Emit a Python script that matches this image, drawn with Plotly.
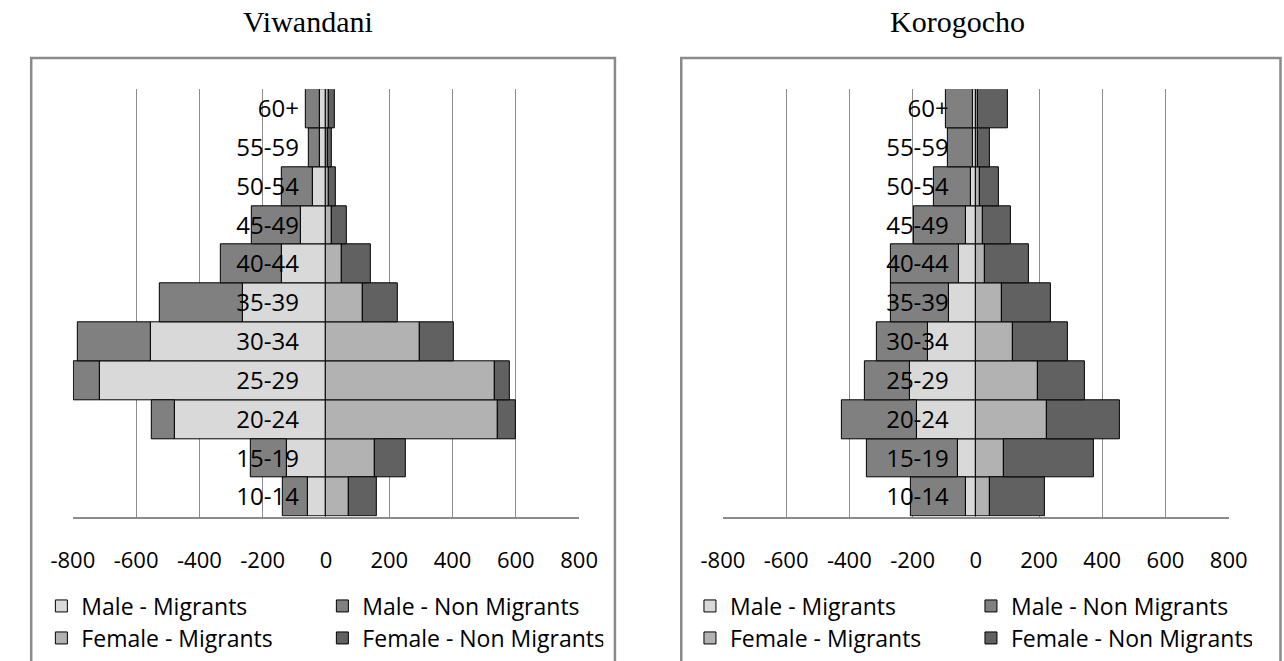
import plotly.graph_objects as go

# ---------------- data ----------------
age_groups = ["10-14", "15-19", "20-24", "25-29", "30-34", "35-39",
              "40-44", "45-49", "50-54", "55-59", "60+"]

series_names = ["Male - Migrants", "Male - Non Migrants",
                "Female - Migrants", "Female - Non Migrants"]

# Viwandani
viw_male_migrants = [57, 125, 477, 714, 554, 262, 139, 79, 40, 20, 20]
viw_male_non_migrants = [80, 114, 73, 82, 229, 264, 194, 154, 100, 35, 45]
viw_female_migrants = [71, 154, 543, 534, 298, 117, 50, 19, 10, 6, 10]
viw_female_non_migrants = [91, 98, 58, 47, 107, 110, 91, 48, 22, 12, 18]

# Korogocho
kor_male_migrants = [30, 58, 187, 210, 152, 84, 54, 30, 14, 10, 10]
kor_male_non_migrants = [175, 288, 238, 142, 162, 186, 216, 166, 119, 79, 85]
kor_female_migrants = [46, 90, 224, 196, 116, 84, 28, 22, 13, 7, 8]
kor_female_non_migrants = [174, 283, 232, 150, 175, 152, 140, 89, 60, 37, 92]

x_tick_values = [-800, -600, -400, -200, 0, 200, 400, 600, 800]
x_tick_labels = ["-800", "-600", "-400", "-200", "0", "200", "400", "600", "800"]

panel_titles = ["Viwandani", "Korogocho"]

# ---------------- style ----------------
W, H = 1284, 661
colors = ["#D9D9D9", "#808080", "#B2B2B2", "#616161"]
grid_col = "#8C8C8C"
frame_col = "#8A8A8A"
sans = "Open Sans"


def px_x(p):
    """pixel x -> paper coordinate"""
    return p / W


def px_y(p):
    """pixel y (from top) -> paper coordinate"""
    return 1 - p / H


# plot-area geometry in pixels
left_dom = (52.5, 575.5)
right_dom = (724.0, 1246.5)
top_px, bot_px = 89.3, 516.5
zero_left = (left_dom[0] + left_dom[1]) / 2
zero_right = (right_dom[0] + right_dom[1]) / 2

fig = go.Figure()

panels = [
    dict(mm=viw_male_migrants, mnm=viw_male_non_migrants,
         fm=viw_female_migrants, fnm=viw_female_non_migrants,
         xa="x", ya="y", legs=("legend", "legend2")),
    dict(mm=kor_male_migrants, mnm=kor_male_non_migrants,
         fm=kor_female_migrants, fnm=kor_female_non_migrants,
         xa="x2", ya="y2", legs=("legend3", "legend4")),
]

for p in panels:
    vals = [[-v for v in p["mm"]], [-v for v in p["mnm"]], p["fm"], p["fnm"]]
    legs = [p["legs"][0], p["legs"][0], p["legs"][1], p["legs"][1]]
    for name, v, c, lg in zip(series_names, vals, colors, legs):
        fig.add_trace(go.Bar(
            y=age_groups, x=v, name=name, orientation="h",
            marker=dict(color=c, line=dict(color="#000000", width=1)),
            xaxis=p["xa"], yaxis=p["ya"], legend=lg,
            hovertemplate="%{y}: %{x}<extra>" + name + "</extra>",
        ))

xaxis_common = dict(
    range=[-800, 800], tickmode="array", tickvals=x_tick_values,
    ticktext=x_tick_labels, showgrid=True, gridcolor=grid_col, gridwidth=1,
    zeroline=False, showline=True, linecolor=grid_col, linewidth=1.5,
    ticks="", ticklabelstandoff=23,
    tickfont=dict(family=sans, size=22, color="#000000"), fixedrange=True,
)
yaxis_common = dict(
    type="category", categoryorder="array", categoryarray=age_groups,
    domain=[px_y(bot_px), px_y(top_px)], showgrid=False, zeroline=False,
    showline=False, ticks="", ticklabelstandoff=27, anchor="free",
    tickfont=dict(family=sans, size=24, color="#000000"), fixedrange=True,
)

legend_common = dict(
    orientation="h", entrywidth=236, entrywidthmode="pixels",
    font=dict(family=sans, size=23, color="#000000"),
    bgcolor="rgba(0,0,0,0)", xanchor="left", yanchor="middle",
    traceorder="normal", itemclick=False, itemdoubleclick=False,
)

row1_y, row2_y = 606, 638
leg_left_x, leg_right_x = 20, 690

fig.update_layout(
    width=W, height=H, margin=dict(l=0, r=0, t=0, b=0),
    paper_bgcolor="#FFFFFF", plot_bgcolor="#FFFFFF",
    barmode="relative", bargap=0,
    xaxis=dict(domain=[px_x(left_dom[0]), px_x(left_dom[1])], anchor="y", **xaxis_common),
    xaxis2=dict(domain=[px_x(right_dom[0]), px_x(right_dom[1])], anchor="y2", **xaxis_common),
    yaxis=dict(position=px_x(zero_left), **yaxis_common),
    yaxis2=dict(position=px_x(zero_right), **yaxis_common),
    legend=dict(x=px_x(leg_left_x), y=px_y(row1_y), **legend_common),
    legend2=dict(x=px_x(leg_left_x), y=px_y(row2_y), **legend_common),
    legend3=dict(x=px_x(leg_right_x), y=px_y(row1_y), **legend_common),
    legend4=dict(x=px_x(leg_right_x), y=px_y(row2_y), **legend_common),
    showlegend=True,
)

# panel frames
fig.add_shape(type="rect", xref="paper", yref="paper",
              x0=px_x(9.5), x1=px_x(612.5), y0=px_y(680), y1=px_y(58),
              line=dict(color=frame_col, width=2.5), layer="below")
fig.add_shape(type="rect", xref="paper", yref="paper",
              x0=px_x(681), x1=px_x(1300), y0=px_y(680), y1=px_y(58),
              line=dict(color=frame_col, width=2.5), layer="below")

# panel titles
for title, cx in zip(panel_titles, [295, 966]):
    fig.add_annotation(text=title, xref="paper", yref="paper",
                       x=px_x(cx), y=px_y(22), xanchor="center", yanchor="middle",
                       showarrow=False,
                       font=dict(family="Liberation Serif", size=30, color="#000000"))

fig.write_html(
    "out.html",
    config={"displayModeBar": False},
    post_script="document.body.style.margin='0px';document.body.style.overflow='hidden';",
)
